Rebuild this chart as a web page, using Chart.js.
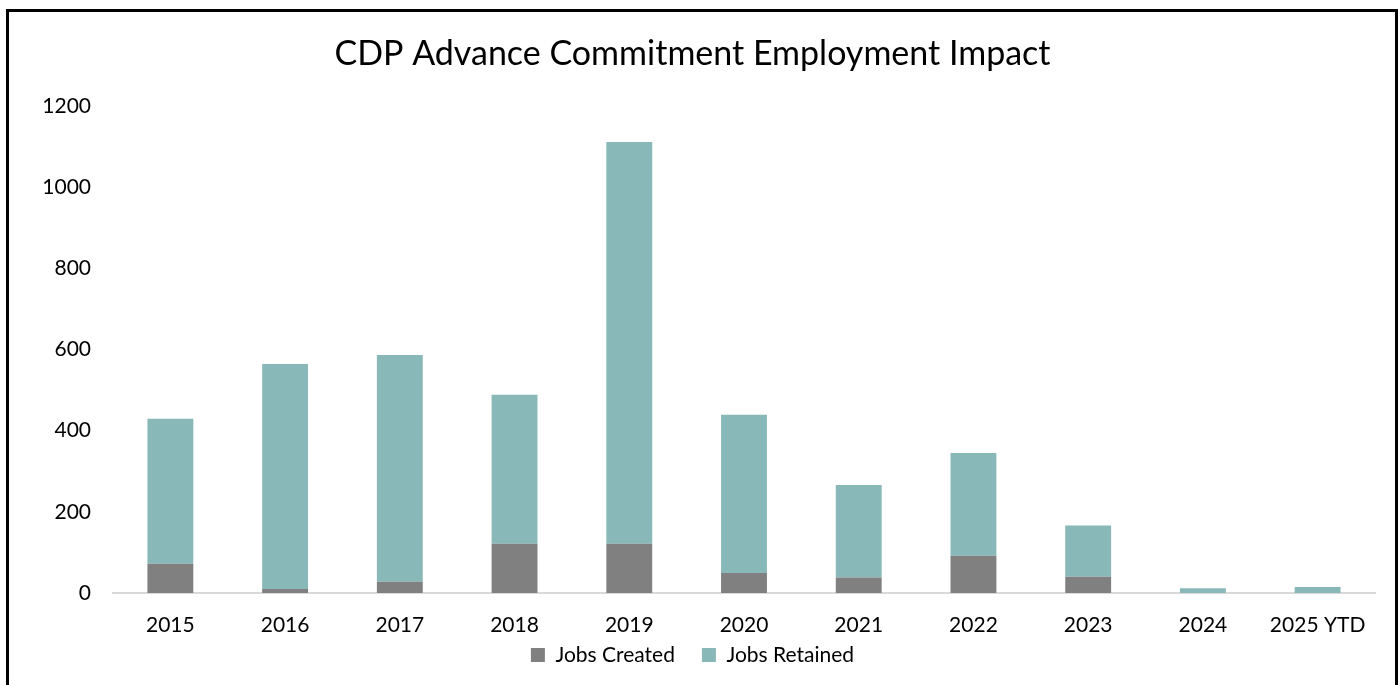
<!DOCTYPE html>
<html>
<head>
<meta charset="utf-8">
<title>CDP Advance Commitment Employment Impact</title>
<script src="https://cdn.jsdelivr.net/npm/chart.js@4/dist/chart.umd.min.js"></script>
<style>
  html, body { margin: 0; padding: 0; background: #fff; }
  #wrap { position: relative; width: 1400px; height: 685px; overflow: hidden; }
  #frame {
    position: absolute; left: 6px; top: 9px; width: 1392px; height: 700px;
    border: 3px solid #000; box-sizing: border-box; pointer-events: none;
  }
  canvas { position: absolute; left: 0; top: 0; }
</style>
</head>
<body>
<div id="wrap">
  <canvas id="chart" width="1400" height="685"></canvas>
  <div id="frame"></div>
</div>
<script>
// years on the x axis
const years = ["2015", "2016", "2017", "2018", "2019", "2020", "2021", "2022", "2023", "2024", "2025 YTD"];
// jobs per year
const jobsCreated  = [72, 10, 28, 121, 121, 49, 38, 92, 40, 0, 0];
const jobsRetained = [357, 554, 558, 367, 990, 390, 228, 253, 126, 12, 15];
// y axis
const yMin = 0, yMax = 1200, yStep = 200;

const FONT = "Lato, 'Open Sans', sans-serif";

// the legend wants wide gaps between its items but should sit right under the year labels,
// so stretch its box upward once the layout is done (items are placed from the top edge)
const liftLegend = {
  id: "liftLegend",
  afterLayout(chart) {
    const lg = chart.legend;
    if (!lg) return;
    lg.top -= 21.5;
    lg.height += 21.5;
  }
};

new Chart(document.getElementById("chart"), {
  type: "bar",
  data: {
    labels: years,
    datasets: [
      {
        label: "Jobs Created",
        data: jobsCreated,
        backgroundColor: "#808080",
        categoryPercentage: 1,
        barPercentage: 0.4
      },
      {
        label: "Jobs Retained",
        data: jobsRetained,
        backgroundColor: "#88b8b8",
        categoryPercentage: 1,
        barPercentage: 0.4
      }
    ]
  },
  plugins: [liftLegend],
  options: {
    responsive: false,
    animation: false,
    layout: { padding: { left: 10, right: 25, top: 0, bottom: 6 } },
    plugins: {
      title: {
        display: true,
        text: "CDP Advance Commitment Employment Impact",
        color: "#000",
        font: { family: FONT, size: 34, weight: "normal" },
        padding: { top: 34, bottom: 31 }
      },
      legend: {
        position: "bottom",
        maxHeight: 40,
        labels: {
          color: "#000",
          font: { family: FONT, size: 21 },
          boxWidth: 14,
          boxHeight: 14,
          padding: 27
        }
      },
      tooltip: { enabled: false }
    },
    scales: {
      x: {
        stacked: true,
        grid: { display: false, drawTicks: false },
        border: { display: true, color: "#d9d9d9", width: 2 },
        ticks: { color: "#000", font: { family: FONT, size: 21 }, padding: 20, maxRotation: 0 },
        afterFit: (s) => { s.height = 46; }
      },
      y: {
        stacked: true,
        min: yMin,
        max: yMax,
        grid: { display: false, drawTicks: false },
        border: { display: false },
        ticks: {
          stepSize: yStep,
          color: "#000",
          font: { family: FONT, size: 21 },
          padding: 22,
          callback: (v) => String(v)
        },
        afterFit: (s) => { s.width = 103; }
      }
    }
  }
});
</script>
</body>
</html>
